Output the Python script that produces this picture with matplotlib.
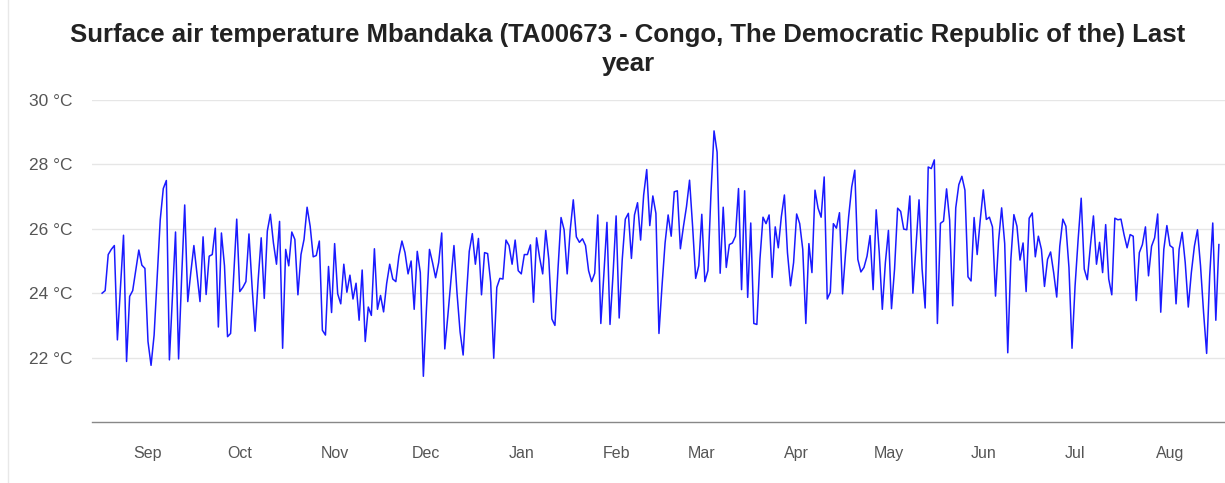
import matplotlib
matplotlib.use("Agg")
import matplotlib.pyplot as plt
import matplotlib.dates as mdates
from matplotlib.lines import Line2D
import pandas as pd

title = "Surface air temperature Mbandaka (TA00673 - Congo, The Democratic Republic of the) Last\nyear"
start_date = "2022-08-17"

temp_aug_sep = [24.0, 24.08, 25.2, 25.36, 25.48, 22.55, 24.2, 25.8, 21.88, 23.9,
                24.08, 24.7, 25.34, 24.87, 24.77, 22.5, 21.76, 22.7, 24.5, 26.28,
                27.25, 27.5, 21.93, 23.9, 25.9, 21.96, 24.5, 26.74, 23.74, 24.65,
                25.48, 24.6, 23.74, 25.75, 23.96, 25.15, 25.2, 26.02, 22.95, 25.87,
                24.85, 22.65, 22.75, 24.54, 26.3]
temp_oct = [24.05, 24.18, 24.36, 25.84, 24.23, 22.82, 24.4, 25.72, 23.84, 25.93,
            26.45, 25.56, 24.9, 26.23, 22.29, 25.36, 24.85, 25.9, 25.67, 23.95,
            25.2, 25.67, 26.67, 26.08, 25.13, 25.17, 25.62, 22.85, 22.7, 24.83,
            23.4]
temp_nov = [25.54, 23.98, 23.67, 24.9, 24.03, 24.56, 23.82, 24.31, 23.16, 24.72,
            22.5, 23.57, 23.31, 25.38, 23.5, 23.93, 23.42, 24.3, 24.9, 24.44,
            24.36, 25.15, 25.62, 25.26, 24.6, 25.0, 23.5, 25.3, 24.64, 21.42]
temp_dec = [23.5, 25.36, 24.95, 24.48, 24.95, 25.87, 22.27, 23.3, 24.4, 25.48,
            24.0, 22.8, 22.08, 23.8, 25.3, 25.85, 24.9, 25.7, 23.95, 25.26,
            25.23, 24.34, 21.98, 24.18, 24.46, 24.44, 25.65, 25.48, 24.9, 25.65,
            24.7]
temp_jan = [24.6, 25.2, 25.2, 25.5, 23.72, 25.72, 25.1, 24.6, 25.95, 25.05,
            23.2, 23.0, 24.75, 26.35, 25.97, 24.6, 25.97, 26.9, 25.75, 25.58,
            25.69, 25.48, 24.7, 24.36, 24.62, 26.43, 23.06, 24.6, 26.2, 23.03,
            24.6]
temp_feb = [26.4, 23.23, 25.05, 26.3, 26.48, 25.08, 26.43, 26.81, 25.65, 27.05,
            27.84, 26.1, 27.02, 26.48, 22.75, 24.23, 25.56, 26.43, 25.77, 27.15,
            27.18, 25.38, 26.07, 26.69, 27.51, 26.07, 24.46, 24.85]
temp_mar = [26.45, 24.36, 24.7, 27.1, 29.04, 28.38, 24.62, 26.67, 24.8, 25.51,
            25.56, 25.77, 27.25, 24.11, 27.18, 23.87, 26.18, 23.06, 23.03, 25.05,
            26.36, 26.16, 26.43, 24.49, 26.06, 25.41, 26.38, 27.05, 25.26, 24.23,
            24.95]
temp_apr = [26.46, 26.16, 25.36, 23.06, 25.54, 24.64, 27.2, 26.64, 26.36, 27.61,
            23.82, 24.03, 26.16, 26.02, 26.5, 23.98, 25.26, 26.38, 27.3, 27.82,
            25.05, 24.66, 24.8, 25.15, 25.79, 24.11, 26.59, 25.26, 23.5, 24.95]
temp_may = [25.95, 23.52, 24.75, 26.64, 26.54, 25.99, 25.97, 27.02, 24.0, 25.46,
            26.9, 24.75, 23.54, 27.92, 27.87, 28.14, 23.06, 26.17, 26.24, 27.24,
            26.27, 23.61, 26.65, 27.37, 27.63, 27.2, 24.51, 24.38, 26.35, 25.2,
            26.27]
temp_jun = [27.21, 26.29, 26.36, 26.06, 23.91, 25.63, 26.65, 25.54, 22.15, 25.03,
            26.44, 26.08, 25.03, 25.56, 24.05, 26.33, 26.49, 25.13, 25.77, 25.36,
            24.21, 25.05, 25.28, 24.64, 23.88, 25.46, 26.3, 26.08, 24.8, 22.29]
temp_jul = [24.23, 25.67, 26.95, 24.75, 24.42, 25.46, 26.4, 24.9, 25.58, 24.64,
            26.13, 24.44, 23.95, 26.33, 26.28, 26.3, 25.82, 25.41, 25.82, 25.77,
            23.77, 25.26, 25.51, 26.06, 24.54, 25.46, 25.72, 26.46, 23.41, 25.36,
            26.1]
temp_aug = [25.48, 25.41, 23.67, 25.36, 25.89, 24.95, 23.57, 24.64, 25.46, 25.97,
            24.85, 23.4, 22.13, 24.54, 26.18, 23.16, 25.51]

temps = (temp_aug_sep + temp_oct + temp_nov + temp_dec + temp_jan + temp_feb +
         temp_mar + temp_apr + temp_may + temp_jun + temp_jul + temp_aug)
dates = pd.date_range(start_date, periods=len(temps), freq="D")

y_ticks = [22, 24, 26, 28, 30]
y_tick_labels = ["22 °C", "24 °C", "26 °C", "28 °C", "30 °C"]
month_labels = ["Sep", "Oct", "Nov", "Dec", "Jan", "Feb", "Mar", "Apr", "May", "Jun", "Jul", "Aug"]

plt.rcParams['font.family'] = ['Liberation Sans', 'DejaVu Sans']

W, H = 1225, 483
fig = plt.figure(figsize=(W / 100, H / 100), dpi=100)
fig.patch.set_facecolor("white")
ax = fig.add_axes([92 / W, (H - 422) / H, (1225 - 92) / W, (422 - 100) / H])

ax.plot(dates, temps, color="#1a1aff", linewidth=1.1)

ax.set_ylim(20, 30)
ax.set_yticks(y_ticks)
ax.set_yticklabels(y_tick_labels)
ax.grid(axis="y", color="#e6e6e6", linewidth=1.0)
ax.set_axisbelow(True)

x0 = dates[0] - pd.Timedelta(days=3.3)
x1 = dates[-1] + pd.Timedelta(days=2.0)
ax.set_xlim(x0, x1)
month_starts = pd.date_range("2022-09-01", periods=12, freq="MS")
ax.set_xticks(month_starts)
ax.set_xticklabels(month_labels)

for side in ["top", "right", "left"]:
    ax.spines[side].set_visible(False)
ax.spines["bottom"].set_color("#888888")
ax.spines["bottom"].set_linewidth(1.0)

ax.tick_params(axis="y", length=0, pad=14, labelsize=12.5, labelcolor="#555555")
ax.tick_params(axis="x", length=0, pad=17, labelsize=11.5, labelcolor="#555555")

fig.text(628 / W, 1 - 49.5 / H, title, ha="center", va="center", fontsize=18.5,
         fontweight="bold", color="#222222", linespacing=1.25)

fig.add_artist(Line2D([8 / W, 8 / W], [0, 1], color="#e8e8e8", linewidth=1.0))

fig.savefig("out.png", dpi=100, facecolor="white")
